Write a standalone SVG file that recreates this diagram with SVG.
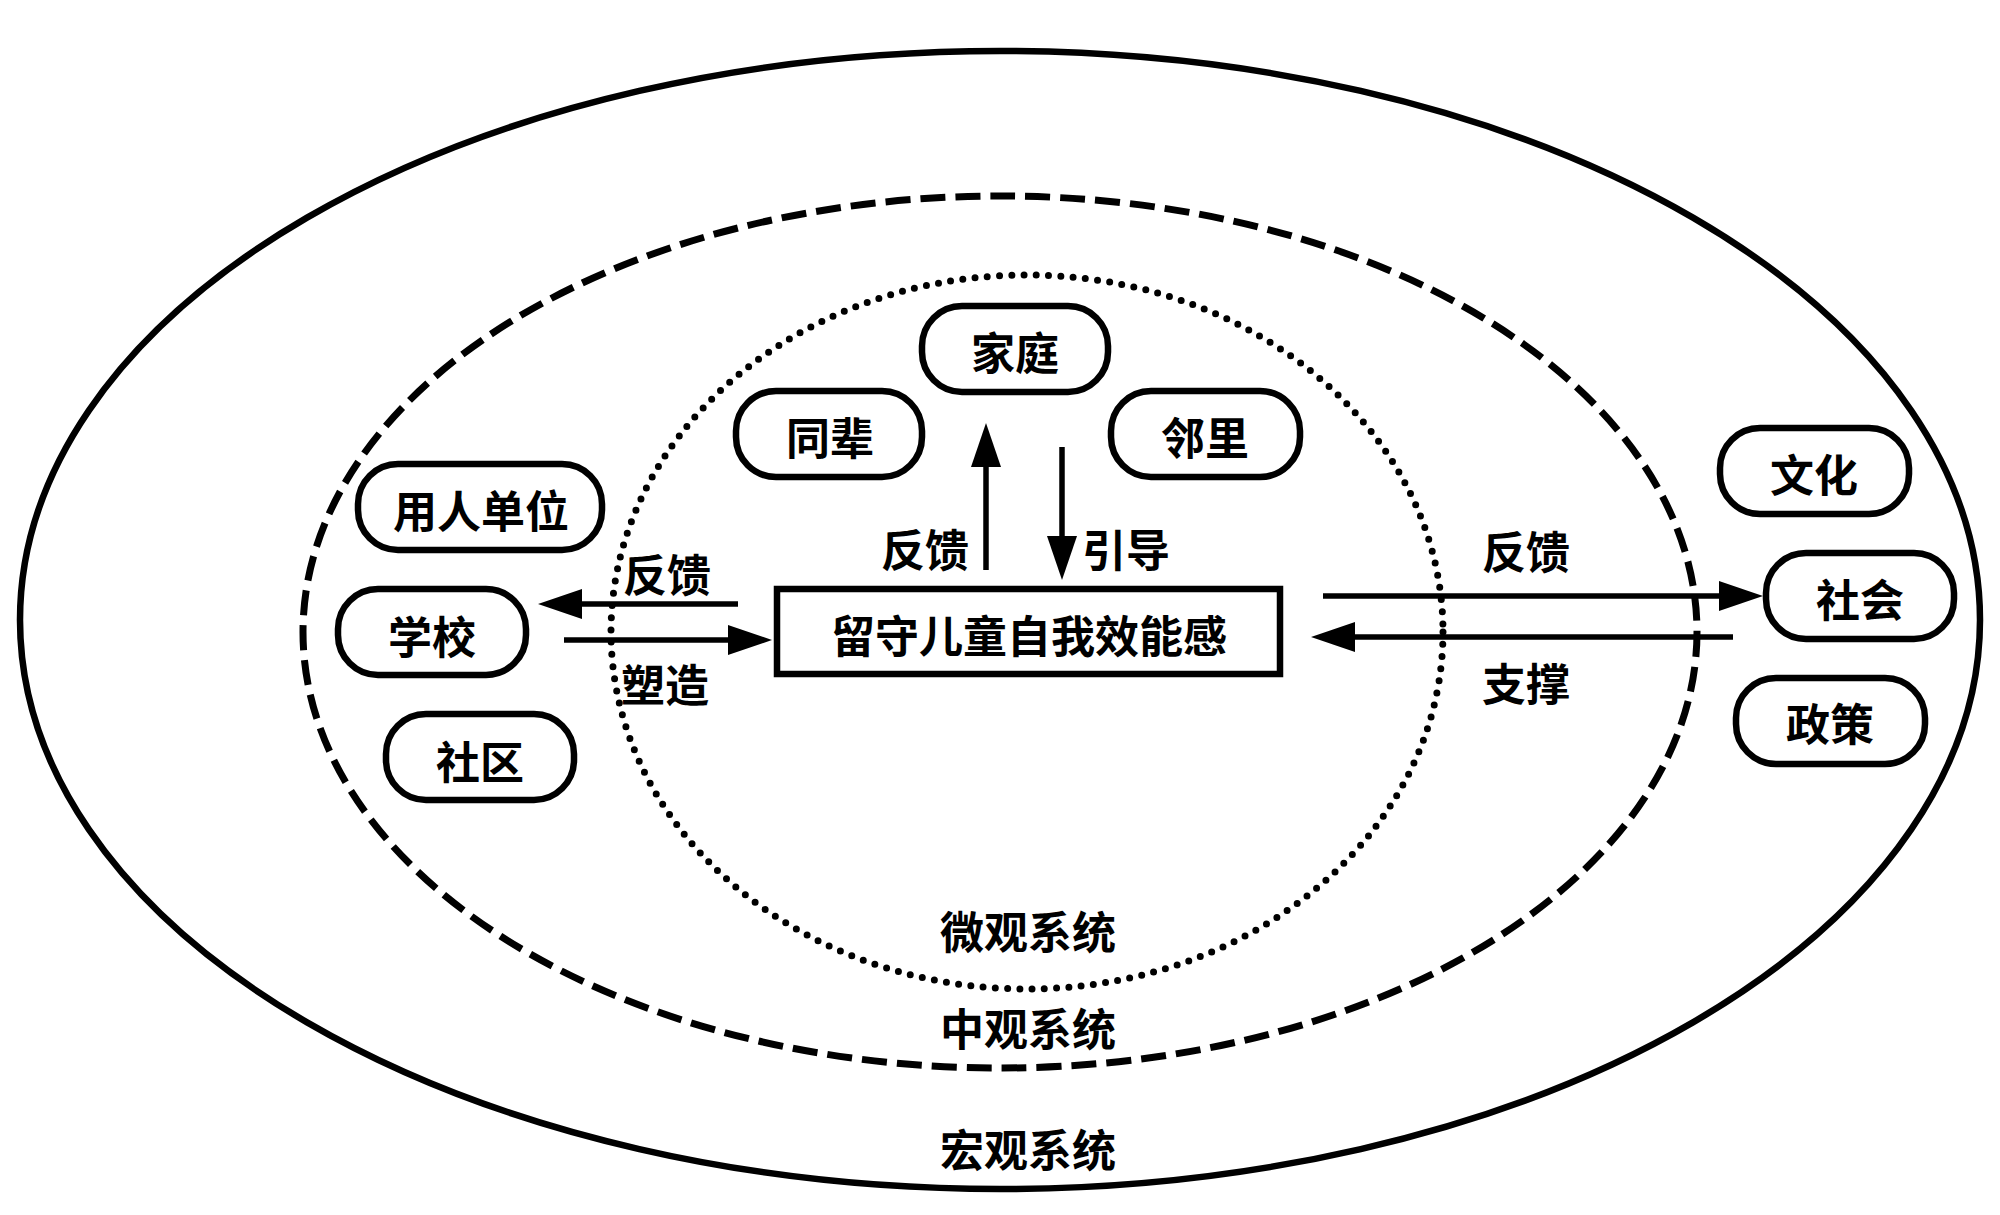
<svg xmlns="http://www.w3.org/2000/svg" width="2000" height="1215" viewBox="0 0 2000 1215">
  <style>
    .sys { fill: none; stroke: #000; }
    .box { fill: #fff; stroke: #000; stroke-width: 6.5; }
    .core { fill: #fff; stroke: #000; stroke-width: 6.5; }
    .t { font-family: "Noto Sans CJK SC", "Noto Sans", sans-serif; font-size: 44px; font-weight: 700; fill: #000; text-anchor: middle; dominant-baseline: central; }
    .arrow { stroke: #000; stroke-width: 5.5; fill: none; marker-end: url(#head); }
  </style>
  <defs>
    <marker id="head" markerUnits="userSpaceOnUse" viewBox="0 0 44 30" markerWidth="44" markerHeight="30" refX="0" refY="15" orient="auto">
      <path d="M0,0 L44,15 L0,30 z" fill="#000"/>
    </marker>
  </defs>
  <rect width="2000" height="1215" fill="#fff"/>

  <g id="systems">
    <ellipse id="macro" class="sys" cx="1000" cy="620" rx="980" ry="569" stroke-width="6.5"/>
    <ellipse id="meso" class="sys" cx="1000" cy="632" rx="697" ry="436" stroke-width="7" stroke-dasharray="25 10"/>
    <ellipse id="micro" class="sys" cx="1027" cy="632" rx="416" ry="357" stroke-width="7" stroke-dasharray="0 12.3" stroke-linecap="round"/>
    <text class="t" x="1028" y="930">微观系统</text>
    <text class="t" x="1028" y="1027">中观系统</text>
    <text class="t" x="1028" y="1148">宏观系统</text>
  </g>

  <g id="connectors">
    <line class="arrow" x1="986" y1="570" x2="986" y2="467"/>
    <text class="t" x="925" y="548">反馈</text>
    <line class="arrow" x1="1062" y1="447" x2="1062" y2="536"/>
    <text class="t" x="1126" y="548">引导</text>
    <line class="arrow" x1="738" y1="604" x2="582" y2="604"/>
    <text class="t" x="667" y="573">反馈</text>
    <line class="arrow" x1="564" y1="640" x2="728" y2="640"/>
    <text class="t" x="665" y="683">塑造</text>
    <line class="arrow" x1="1323" y1="596" x2="1719" y2="596"/>
    <text class="t" x="1526" y="550">反馈</text>
    <line class="arrow" x1="1733" y1="637" x2="1355" y2="637"/>
    <text class="t" x="1526" y="682">支撑</text>
  </g>

  <g id="core">
    <rect class="core" x="777" y="589" width="503" height="85"/>
    <text class="t" x="1029" y="634">留守儿童自我效能感</text>
  </g>

  <g id="family">
    <rect class="box" x="922" y="306" width="186" height="86" rx="40"/>
    <text class="t" x="1015" y="351">家庭</text>
  </g>
  <g id="peers">
    <rect class="box" x="736" y="391" width="186" height="86" rx="40"/>
    <text class="t" x="830" y="436">同辈</text>
  </g>
  <g id="neighbours">
    <rect class="box" x="1111" y="391" width="189" height="86" rx="40"/>
    <text class="t" x="1205" y="436">邻里</text>
  </g>

  <g id="employer">
    <rect class="box" x="358" y="464" width="244" height="86" rx="40"/>
    <text class="t" x="481" y="509">用人单位</text>
  </g>
  <g id="school">
    <rect class="box" x="338" y="589" width="188" height="86" rx="40"/>
    <text class="t" x="432" y="635">学校</text>
  </g>
  <g id="community">
    <rect class="box" x="386" y="714" width="188" height="86" rx="40"/>
    <text class="t" x="480" y="760">社区</text>
  </g>

  <g id="culture">
    <rect class="box" x="1720" y="428" width="189" height="86" rx="40"/>
    <text class="t" x="1814" y="473">文化</text>
  </g>
  <g id="society">
    <rect class="box" x="1766" y="553" width="188" height="86" rx="40"/>
    <text class="t" x="1860" y="598">社会</text>
  </g>
  <g id="policy">
    <rect class="box" x="1736" y="678" width="189" height="86" rx="40"/>
    <text class="t" x="1830" y="722">政策</text>
  </g>
</svg>
